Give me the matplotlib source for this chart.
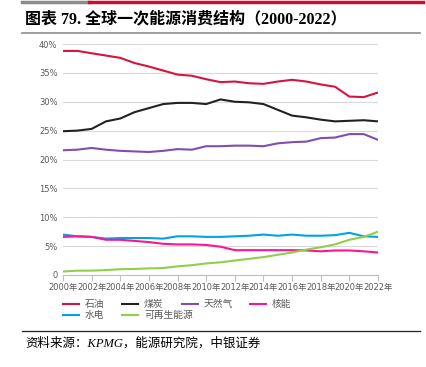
import numpy as np
import matplotlib.pyplot as plt
from matplotlib.lines import Line2D

plt.rcParams['font.family'] = ['DejaVu Sans', 'Noto Sans CJK SC']

years = list(range(2000, 2023))
oil = [38.8, 38.8, 38.4, 38.0, 37.6, 36.7, 36.1, 35.4, 34.7, 34.5, 33.9, 33.4,
       33.5, 33.2, 33.1, 33.5, 33.8, 33.5, 33.0, 32.6, 30.9, 30.8, 31.6]
coal = [24.9, 25.0, 25.3, 26.6, 27.1, 28.2, 28.9, 29.6, 29.8, 29.8, 29.6, 30.4,
        30.0, 29.9, 29.6, 28.6, 27.6, 27.3, 26.9, 26.6, 26.7, 26.8, 26.6]
gas = [21.6, 21.7, 22.0, 21.7, 21.5, 21.4, 21.3, 21.5, 21.8, 21.7, 22.3, 22.3,
       22.4, 22.4, 22.3, 22.8, 23.0, 23.1, 23.7, 23.8, 24.4, 24.4, 23.4]
nuclear = [6.6, 6.7, 6.6, 6.1, 6.1, 5.9, 5.7, 5.4, 5.3, 5.3, 5.2, 4.9,
           4.3, 4.3, 4.3, 4.3, 4.3, 4.25, 4.1, 4.25, 4.25, 4.1, 3.9]
hydro = [7.0, 6.7, 6.6, 6.3, 6.4, 6.4, 6.4, 6.3, 6.7, 6.7, 6.6, 6.6,
         6.7, 6.8, 7.0, 6.8, 7.0, 6.8, 6.8, 6.9, 7.3, 6.7, 6.6]
renew = [0.6, 0.75, 0.75, 0.85, 1.0, 1.05, 1.15, 1.2, 1.5, 1.7, 2.0, 2.2,
         2.5, 2.8, 3.1, 3.5, 3.9, 4.4, 4.8, 5.3, 6.1, 6.6, 7.5]

names = ['石油', '煤炭', '天然气', '核能', '水电', '可再生能源']
series = [oil, coal, gas, nuclear, hydro, renew]
colors = ['#d7143f', '#222222', '#7d4fb2', '#ff1493', '#00a3e8', '#8fcf4a']
# draw order: hydro under nuclear like the original
order = [0, 1, 2, 4, 3, 5]

yticks = [0, 5, 10, 15, 20, 25, 30, 35, 40]
ylabels = ['0', '5%', '10%', '15%', '20%', '25%', '30%', '35%', '40%']
xticks = list(range(2000, 2023, 2))

W, H = 427, 367
fig = plt.figure(figsize=(W / 100, H / 100), dpi=100)
ax = fig.add_axes([63 / W, 1 - 275 / H, (378 - 63) / W, (275 - 44) / H])

for i in order:
    ax.plot(years, series[i], color=colors[i], lw=1.5, solid_capstyle='round')

ax.set_xlim(2000, 2022)
ax.set_ylim(0, 40)
ax.set_yticks(yticks)
ax.set_yticklabels(ylabels)
ax.set_xticks(xticks)
ax.set_xticklabels([f'{y}年' for y in xticks])
ax.grid(axis='y', color='#d9d9d9', lw=0.8)
ax.set_axisbelow(True)
for s in ['top', 'right', 'left']:
    ax.spines[s].set_visible(False)
ax.spines['bottom'].set_color('#bfbfbf')
ax.tick_params(axis='y', length=0, labelsize=6, labelcolor='#595959', pad=4)
ax.tick_params(axis='x', length=4, color='#bfbfbf', labelsize=6,
               labelcolor='#595959', pad=2)

# legend drawn by hand to match the fixed column layout
colx = [63, 122, 182, 250]
rowy = [304, 315]
for i, name in enumerate(names):
    x0 = colx[i % 4]
    y0 = 1 - rowy[i // 4] / H
    fig.add_artist(Line2D([x0 / W, (x0 + 16) / W], [y0, y0], color=colors[i], lw=1.5))
    fig.text((x0 + 22) / W, y0, name, fontsize=7, color='#595959', va='center')

# header decoration
fig.add_artist(Line2D([22 / W, 89 / W], [1 - 1.5 / H] * 2, color='#8c8c8c', lw=2.5))
fig.add_artist(Line2D([89 / W, 423 / W], [1 - 1.5 / H] * 2, color='#c8102e', lw=2.5))
fig.text(25 / W, 1 - 19 / H, '图表 79. 全球一次能源消费结构（2000-2022）',
         fontsize=11.5, fontweight='bold', va='center',
         family=['Liberation Serif', 'Noto Sans CJK SC'])
fig.add_artist(Line2D([22 / W, 420 / W], [1 - 33 / H] * 2, color='#8c8c8c', lw=1.2))

fig.add_artist(Line2D([22 / W, 420 / W], [1 - 331 / H] * 2, color='#222222', lw=0.9))
fig.text(25 / W, 1 - 343 / H, '资料来源：KPMG，能源研究院，中银证券',
         fontsize=9, style='italic', va='center',
         family=['Liberation Serif', 'Noto Sans CJK SC'])

fig.savefig('out.png', dpi=100)
